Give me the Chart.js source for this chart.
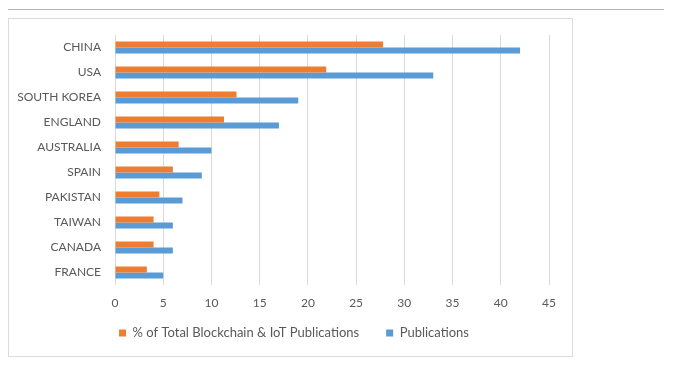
<!DOCTYPE html>
<html>
<head>
<meta charset="utf-8">
<script src="https://cdn.jsdelivr.net/npm/chart.js@4"></script>
<style>
  body { margin: 0; background: #fff; }
  #topLine { position: absolute; left: 8px; top: 9px; width: 656px; height: 1px; background: #b4b4b4; }
  #box { position: absolute; left: 8px; top: 18px; width: 563px; height: 337px; border: 1px solid #dcdcdc; }
  canvas { display: block; }
</style>
</head>
<body>
<div id="topLine"></div>
<div id="box"><canvas id="chart" width="563" height="341"></canvas></div>
<script>
// Data
const countries = ['CHINA', 'USA', 'SOUTH KOREA', 'ENGLAND', 'AUSTRALIA', 'SPAIN', 'PAKISTAN', 'TAIWAN', 'CANADA', 'FRANCE'];
const percentShare = [27.8, 21.9, 12.6, 11.3, 6.6, 6.0, 4.6, 4.0, 4.0, 3.3];
const publications = [42, 33, 19, 17, 10, 9, 7, 6, 6, 5];
const xTicks = [0, 5, 10, 15, 20, 25, 30, 35, 40, 45];

const textColor = '#595959';
const fontFamily = 'Lato, "Open Sans", sans-serif';

// nudge the legend so it sits where the original one is
const legendNudge = {
    id: 'legendNudge',
    afterLayout(chart) {
        chart.legend.left += 30;
        chart.legend.top -= 10.5;
    }
};

const ctx = document.getElementById('chart').getContext('2d');
const chart = new Chart(ctx, {
    type: 'bar',
    data: {
        labels: countries,
        datasets: [{
            label: '% of Total Blockchain & IoT Publications',
            data: percentShare,
            backgroundColor: '#ED7D31',
            barPercentage: 1,
            categoryPercentage: 0.48
        }, {
            label: 'Publications',
            data: publications,
            backgroundColor: '#5B9BD5',
            barPercentage: 1,
            categoryPercentage: 0.48
        }]
    },
    options: {
        indexAxis: 'y',
        responsive: false,
        animation: false,
        layout: { padding: { top: 16, right: 23, bottom: 0, left: 0 } },
        scales: {
            x: {
                min: xTicks[0],
                max: xTicks[xTicks.length - 1],
                afterBuildTicks: (axis) => { axis.ticks = xTicks.map(v => ({ value: v })); },
                afterFit: (axis) => { axis.height = 25; },
                grid: { color: '#d9d9d9', drawTicks: false },
                border: { display: false },
                ticks: { color: textColor, padding: 11, font: { family: fontFamily, size: 12 } }
            },
            y: {
                afterFit: (axis) => {
                    axis.width = 106;
                    // tick padding would otherwise push the plot down
                    axis.paddingTop = 0;
                    axis.paddingBottom = 0;
                },
                grid: { display: false, drawTicks: false },
                border: { display: false },
                ticks: { color: textColor, padding: 14, font: { family: fontFamily, size: 12 } }
            }
        },
        plugins: {
            legend: {
                position: 'bottom',
                labels: {
                    boxWidth: 7,
                    boxHeight: 7,
                    padding: 27,
                    color: textColor,
                    font: { family: fontFamily, size: 13 }
                }
            },
            tooltip: { enabled: false }
        }
    },
    plugins: [legendNudge]
});
</script>
</body>
</html>
